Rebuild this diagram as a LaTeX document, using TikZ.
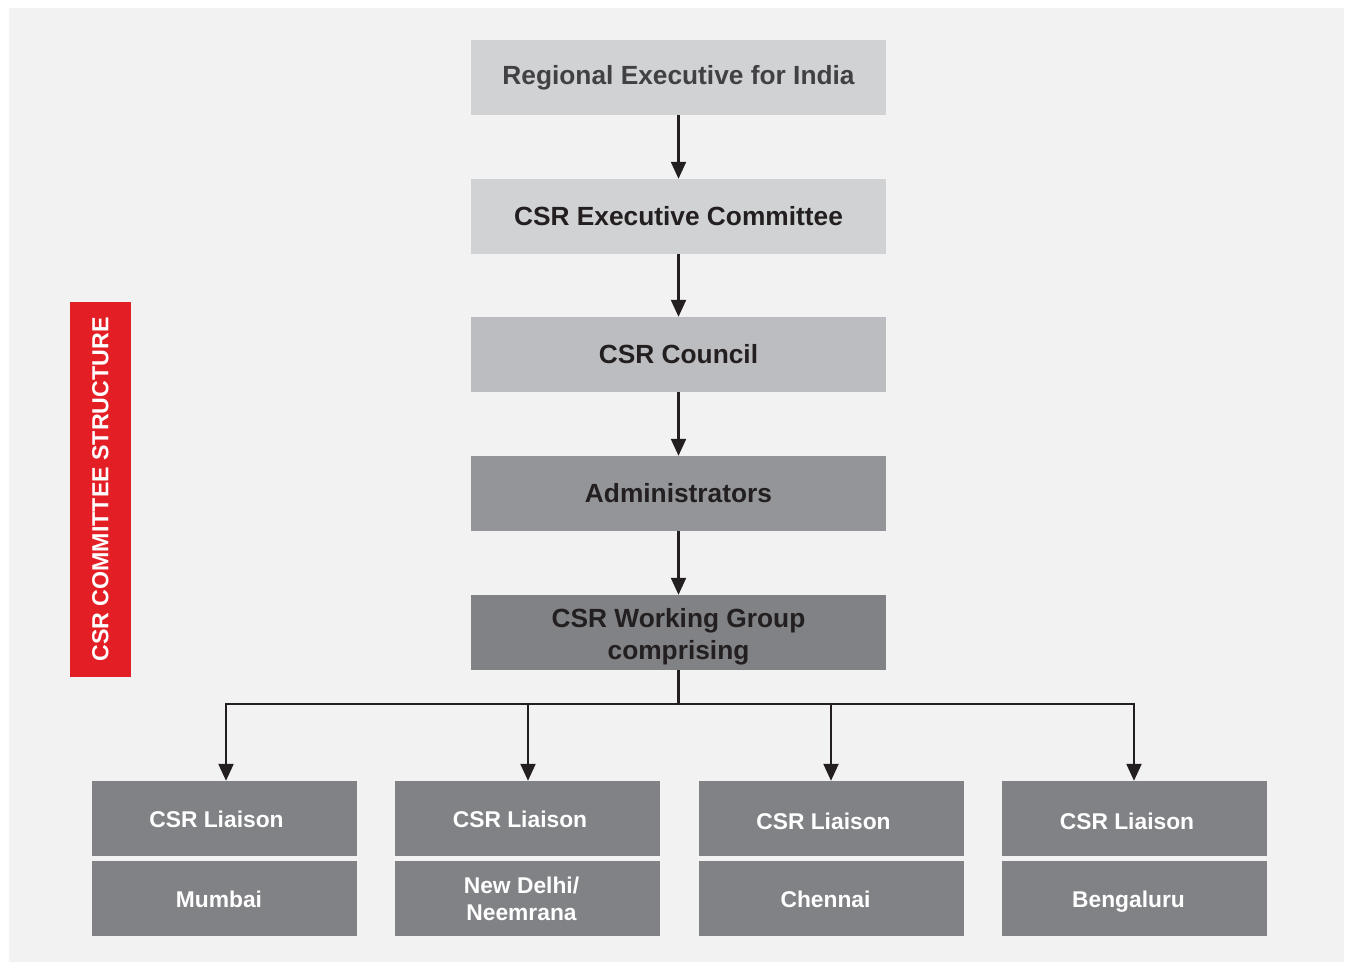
\documentclass[tikz,border=0pt]{standalone}
\usepackage{fontspec}
\setmainfont{Liberation Sans}
\usetikzlibrary{arrows.meta}
\definecolor{bgc}{HTML}{F2F2F2}
\definecolor{lgray}{HTML}{D1D2D4}
\definecolor{mgray}{HTML}{BCBDC0}
\definecolor{dgray}{HTML}{939598}
\definecolor{ddgray}{HTML}{808285}
\definecolor{txt}{HTML}{231F20}
\definecolor{txtsoft}{HTML}{414042}
\definecolor{redc}{HTML}{E31E24}
\tikzset{
  box/.style={rectangle, inner sep=0pt, minimum width=415pt, minimum height=75pt, align=center, font=\fontsize{26.3}{32}\selectfont\bfseries, text=txt},
  boxtext/.style={inner sep=0pt, align=center, font=\fontsize{26.3}{32}\selectfont\bfseries, text=txt},
  locbox/.style={rectangle, inner sep=0pt, minimum width=265pt, minimum height=75pt, fill=ddgray},
  loctext/.style={inner sep=0pt, align=center, text=white, font=\fontsize{22.8}{27}\selectfont\bfseries},
  conn/.style={line width=2.2pt, draw=txt, -{Triangle[length=17pt,width=15pt]}},
  bus/.style={line width=2.2pt, draw=txt}
}
\begin{document}
\begin{tikzpicture}[x=1pt,y=-1pt]
\useasboundingbox (0,0) rectangle (1346,962);
\fill[bgc] (9,8) rectangle (1344,962);
\node[box, fill=lgray, text=txtsoft] (b1) at (678.5,77.5) {Regional Executive for India};
\node[box, fill=lgray] (b2) at (678.5,216.5) {CSR Executive Committee};
\node[box, fill=mgray] (b3) at (678.5,354.5) {CSR Council};
\node[box, fill=dgray] (b4) at (678.5,493.5) {Administrators};
\node[box, fill=ddgray] (b5) at (678.5,632.5) {};
\node[boxtext] (t5) at ([yshift=-4pt]b5.center) {CSR Working Group\\comprising};
\draw[conn] (b1) -- (b2);
\draw[conn] (b2) -- (b3);
\draw[conn] (b3) -- (b4);
\draw[conn] (b4) -- (b5);
\node[locbox] (l1) at (224.5,818.5) {};
\node[locbox] (m1) at (224.5,898.5) {};
\node[locbox] (l2) at (527.5,818.5) {};
\node[locbox] (m2) at (527.5,898.5) {};
\node[locbox] (l3) at (831.5,818.5) {};
\node[locbox] (m3) at (831.5,898.5) {};
\node[locbox] (l4) at (1134.5,818.5) {};
\node[locbox] (m4) at (1134.5,898.5) {};
\node[loctext] (tl1) at ([xshift=-8pt,yshift=-1pt]l1.center) {CSR Liaison};
\node[loctext] (tl2) at ([xshift=-7.5pt,yshift=-1pt]l2.center) {CSR Liaison};
\node[loctext] (tl3) at ([xshift=-8pt,yshift=-3pt]l3.center) {CSR Liaison};
\node[loctext] (tl4) at ([xshift=-7.5pt,yshift=-3pt]l4.center) {CSR Liaison};
\node[loctext] (tm1) at ([xshift=-5.5pt,yshift=-1pt]m1.center) {Mumbai};
\node[loctext] (tm2) at ([xshift=-6pt]m2.center) {New Delhi/\\Neemrana};
\node[loctext] (tm3) at ([xshift=-6pt,yshift=-1pt]m3.center) {Chennai};
\node[loctext] (tm4) at ([xshift=-6pt,yshift=-3pt]m4.center) {Bengaluru};
\coordinate (j) at (678.5,704);
\draw[bus] (b5.south) -- (j);
\draw[conn] (j) -| ([xshift=1.5pt]l1.north);
\draw[conn] (j) -| ([xshift=0.5pt]l2.north);
\draw[conn] (j) -| ([xshift=-0.5pt]l3.north);
\draw[conn] (j) -| ([xshift=-0.5pt]l4.north);
\node[rectangle, fill=redc, minimum width=61pt, minimum height=375pt, inner sep=0pt] (lab) at (100.5,489.5) {};
\node[rotate=90, text=white, font=\fontsize{23.2}{26}\selectfont\bfseries] (labt) at (lab.center) {CSR COMMITTEE STRUCTURE};
\end{tikzpicture}
\end{document}
